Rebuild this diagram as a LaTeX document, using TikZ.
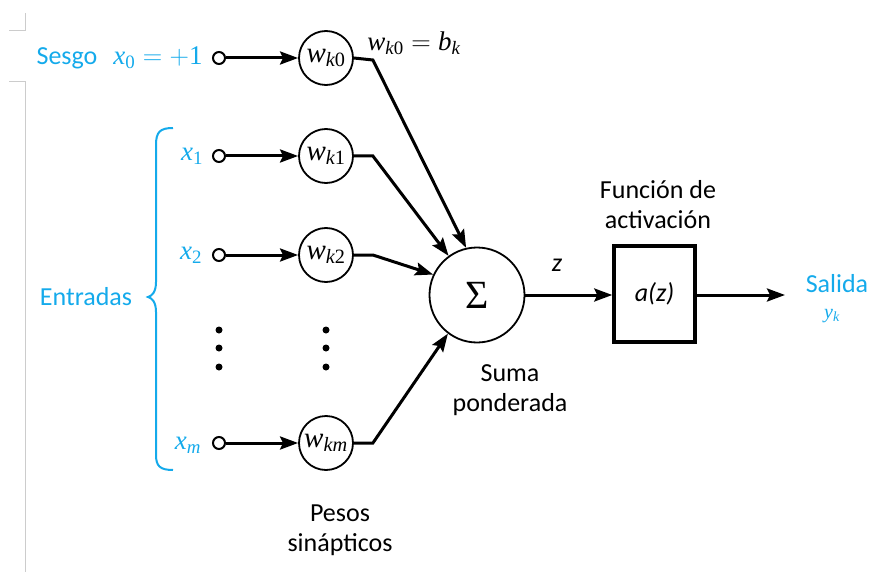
\RequirePackage{fix-cm}
\documentclass[tikz,border=0pt]{standalone}
\usepackage{fontspec}
\setmainfont{Carlito}
\newfontfamily\tms[NFSSFamily=tms]{Liberation Serif}
\DeclareMathAlphabet{\mti}{TU}{tms}{m}{it}
\DeclareMathAlphabet{\mtr}{TU}{tms}{m}{n}
\usetikzlibrary{arrows.meta}
\definecolor{cyanx}{RGB}{20,170,235}
\begin{document}
\begin{tikzpicture}[x=1pt,y=-1pt,
  lbl/.style={font=\fontsize{26}{30}\selectfont},
  mth/.style={font=\fontsize{27}{30}\selectfont},
  inp/.style={circle,draw,line width=2pt,fill=white,minimum size=12pt,inner sep=0pt},
  wgt/.style={circle,draw,line width=1.8pt,minimum size=54pt,inner sep=0pt,font=\fontsize{29}{30}\selectfont},
  arr/.style={line width=3pt,-{Stealth[length=18pt,width=13pt,inset=3pt]}},
  dot/.style={circle,fill,inner sep=0pt,minimum size=7pt},
  artifact/.style={draw=black!20,line width=1pt}
]
\useasboundingbox (0,0) rectangle (880,572);
% page artefacts
\draw[artifact] (9,31) -- (25,31) -- (25,13);
\draw[artifact] (9,82) -- (25,82) -- (25,572);
% labels left
\node[lbl,text=cyanx] (sesgo) at (67,58) {Sesgo};
\node[mth,text=cyanx] (x0) at (158,58) {$\mti{x}_{\mtr{0}}=+\mtr{1}$};
\node[mth,text=cyanx] (x1) at (192,156) {$\mti{x}_{\mtr{1}}$};
\node[mth,text=cyanx] (x2) at (191,255) {$\mti{x}_{\mtr{2}}$};
\node[mth,text=cyanx] (xm) at (188,445) {$\mti{x}_{\mti{m}}$};
\node[lbl,text=cyanx] (entradas) at (86,297) {Entradas};
\draw[cyanx,line width=2pt] (173,128) .. controls (160,128) and (156,132) .. (156,145) -- (156,282) .. controls (156,292) and (152,296) .. (148,297) .. controls (152,298) and (156,302) .. (156,312) -- (156,455) .. controls (156,466) and (160,470) .. (173,470);
% weights
\node[wgt] (w0) at (326,58) {$\mti{w}_{\mti{k}\mtr{0}}$};
\node[wgt] (w1) at (326,156) {$\mti{w}_{\mti{k}\mtr{1}}$};
\node[wgt] (w2) at (326,255) {$\mti{w}_{\mti{k}\mtr{2}}$};
\node[wgt] (wm) at (326,443) {$\mti{w}_{\mti{km}}$};
\node[mth] (bk) at (414,43) {$\mti{w}_{\mti{k}\mtr{0}}=\mti{b}_{\mti{k}}$};
% input circles
\node[inp] (c0) at (219,58) {};
\node[inp] (c1) at (219,156) {};
\node[inp] (c2) at (219,255) {};
\node[inp] (cm) at (219,443) {};
\draw[arr] (c0.east) -- (w0.west);
\draw[arr] (c1.east) -- (w1.west);
\draw[arr] (c2.east) -- (w2.west);
\draw[arr] (cm.east) -- (wm.west);
% dots
\node[dot] (d1) at (219,330) {};
\node[dot] (d2) at (219,348) {};
\node[dot] (d3) at (219,367) {};
\node[dot] (e1) at (326,330) {};
\node[dot] (e2) at (326,348) {};
\node[dot] (e3) at (326,367) {};
% sum
\node[circle,draw,line width=1.8pt,minimum size=95pt,inner sep=0pt,font=\fontsize{40}{44}\selectfont\tms] (S) at (477,295) {Σ};
\draw[arr] (w0.east) -- ++(19,2) -- (S.103);
\draw[arr] (w1.east) -- ++(19,0) -- (S.126);
\draw[arr] (w2.east) -- ++(19,0) -- (S.155);
\draw[arr] (wm.east) -- ++(19,0) -- (S.233);
\node[lbl,align=center] (suma) at (510,390) {Suma\\ponderada};
\node[lbl,align=center] (pesos) at (340,530) {Pesos\\sinápticos};
% activation
\node[draw,line width=3.5pt,minimum width=81pt,minimum height=96pt,inner sep=0pt,lbl] (A) at (654.5,294) {\textit{a(z)}};
\node[lbl,align=center] (func) at (658,205) {Función de\\activación};
\node[lbl] (z) at (557,265) {\textit{z}};
\draw[arr] (S.east) -- (S.east -| A.west);
\coordinate (out) at (785,295);
\draw[arr] (A.east |- out) -- (out);
\node[lbl,text=cyanx] (salida) at (837,284) {Salida};
\node[text=cyanx,font=\fontsize{20}{22}\selectfont] (yk) at (832,316) {$\mti{y}_{\mti{k}}$};
\end{tikzpicture}
\end{document}
